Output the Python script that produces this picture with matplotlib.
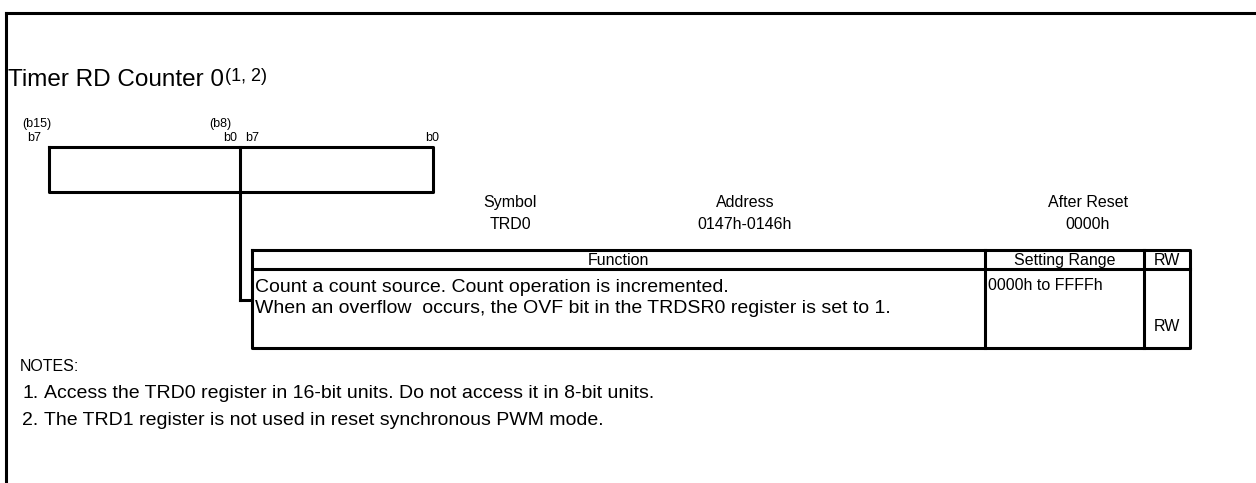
import matplotlib
matplotlib.use('Agg')
import matplotlib.pyplot as plt

# register diagram content
title = "Timer RD Counter 0"
title_notes = "(1, 2)"
bit_top = ["(b15)", "(b8)"]
bit_low = ["b7", "b0", "b7", "b0"]
info_heads = ["Symbol", "Address", "After Reset"]
info_vals = ["TRD0", "0147h-0146h", "0000h"]
col_heads = ["Function", "Setting Range", "RW"]
func_lines = ["Count a count source. Count operation is incremented.",
              "When an overflow  occurs, the OVF bit in the TRDSR0 register is set to 1."]
setting_range = "0000h to FFFFh"
rw = "RW"
notes = ["Access the TRD0 register in 16-bit units. Do not access it in 8-bit units.",
         "The TRD1 register is not used in reset synchronous PWM mode."]

W, H = 1256, 483
fig = plt.figure(figsize=(W / 100, H / 100), dpi=100)
ax = fig.add_axes([0, 0, 1, 1])
ax.set_xlim(0, W)
ax.set_ylim(H, 0)
ax.axis('off')

plt.rcParams['font.family'] = ['Liberation Sans', 'DejaVu Sans']
lw = 2.2
fs = 11.5
fs_body = 14


def line(xs, ys, w=lw):
    ax.plot(xs, ys, color='black', linewidth=w, solid_capstyle='projecting')


# outer frame (top and left only)
line([6, W + 5], [13, 13])
line([6, 6], [13, H + 5])

# title
t = ax.text(8, 86, title, fontsize=17.5, va='baseline')
ax.annotate(title_notes, xy=(1, 1), xycoords=t, xytext=(1, 0.5),
            textcoords='offset points', fontsize=13, va='top')

# bit labels
for x, s in zip([22, 209], bit_top):
    ax.text(x, 127, s, fontsize=9, va='baseline')
for x, s in zip([27, 223, 245, 425], bit_low):
    ax.text(x, 141, s, fontsize=9, va='baseline')

# register box
bx0, bx1, by0, by1, bmid = 49, 433, 147, 192, 240
line([bx0, bx1, bx1, bx0, bx0], [by0, by0, by1, by1, by0])
line([bmid, bmid], [by0, 300])
line([bmid, 252], [300, 300])

# symbol / address / reset
for x, hd, v in zip([510, 745, 1088], info_heads, info_vals):
    ax.text(x, 207, hd, fontsize=fs, ha='center', va='baseline')
    ax.text(x, 229, v, fontsize=fs, ha='center', va='baseline')

# table
tx0, tx1, tx2, tx3 = 252, 985, 1144, 1190
ty0, ty1, ty2 = 250, 269, 348
line([tx0, tx3, tx3, tx0, tx0], [ty0, ty0, ty2, ty2, ty0])
line([tx0, tx3], [ty1, ty1])
line([tx1, tx1], [ty0, ty2])
line([tx2, tx2], [ty0, ty2])
for x, s in zip([(tx0 + tx1) / 2, (tx1 + tx2) / 2, (tx2 + tx3) / 2], col_heads):
    ax.text(x, 265, s, fontsize=fs, ha='center', va='baseline')
for i, s in enumerate(func_lines):
    ax.text(255, 292 + 21 * i, s, fontsize=fs_body, va='baseline')
ax.text(988, 290, setting_range, fontsize=fs, va='baseline')
ax.text((tx2 + tx3) / 2, 331, rw, fontsize=fs, ha='center', va='baseline')

# notes
ax.text(20, 371, "NOTES:", fontsize=fs, va='baseline')
for i, s in enumerate(notes):
    ax.text(22, 398 + 27 * i, f"{i + 1}.", fontsize=fs_body, va='baseline')
    ax.text(44, 398 + 27 * i, s, fontsize=fs_body, va='baseline')

fig.savefig("out.png", dpi=100)
